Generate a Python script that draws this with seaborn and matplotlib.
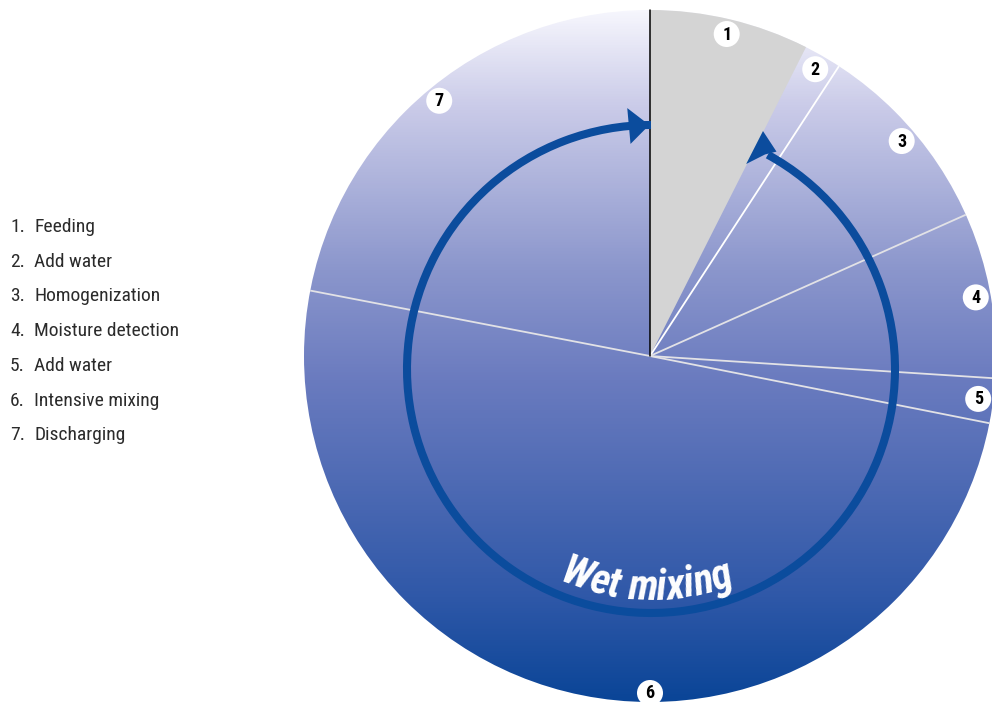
import numpy as np
import matplotlib
matplotlib.use("Agg")
import matplotlib.pyplot as plt
import seaborn as sns
from matplotlib.patches import Circle, Arc, Polygon
from matplotlib.colors import LinearSegmentedColormap
from matplotlib import font_manager as fm
from matplotlib.textpath import text_to_path
from matplotlib.font_manager import FontProperties

# ---------------- data ----------------
steps = ["Feeding", "Add water", "Homogenization", "Moisture detection",
         "Add water", "Intensive mixing", "Discharging"]
step_numbers = ["1", "2", "3", "4", "5", "6", "7"]
step_share = [26.8, 6.3, 32.8, 27.8, 7.5, 179.7, 79.1]   # degrees of the cycle
cycle_title = "Wet mixing"

# ---------------- style ----------------
sns.set_theme(style="white")
names = {f.name for f in fm.fontManager.ttflist}
narrow = None
for cand in ["Liberation Sans Narrow", "Roboto Condensed", "Open Sans Condensed"]:
    if cand in names:
        narrow = cand
        break
if narrow is None:
    narrow = "DejaVu Sans"
plt.rcParams["font.family"] = [narrow, "DejaVu Sans"]

W, H = 992, 704
fig = plt.figure(figsize=(W / 100, H / 100), dpi=100)
ax = fig.add_axes([0, 0, 1, 1])

cx, cy = 650, H - 356      # pie centre (data coords, y up)
R = 346

# ---------------- pie ----------------
colors = ["#d4d4d4"] + ["none"] * (len(step_share) - 1)
wedges, _ = ax.pie(step_share, colors=colors, startangle=90, counterclock=False,
                   center=(cx, cy), radius=R, frame=True,
                   wedgeprops=dict(linewidth=0, zorder=2))

# gradient background clipped to circle
cmap = LinearSegmentedColormap.from_list(
    "wet", [(0.0, "#f6f6fd"), (0.135, "#cbcce9"), (0.375, "#8b96cc"),
            (0.535, "#6a7bbf"), (0.85, "#2f58a8"), (1.0, "#0a4597")])
grad = np.linspace(0, 1, 512).reshape(-1, 1)
img = ax.imshow(grad, cmap=cmap, aspect="auto", origin="upper",
                extent=(cx - R, cx + R, cy - R, cy + R), zorder=1)
clip = Circle((cx, cy), R, transform=ax.transData)
img.set_clip_path(clip)

# boundary lines
bounds = np.cumsum(step_share)
for i, b in enumerate(bounds[1:-1], start=1):
    th = np.deg2rad(90 - b)
    col = "#ffffff" if i == 1 else "#e2e2e6"
    ax.plot([cx, cx + R * np.cos(th)], [cy, cy + R * np.sin(th)],
            color=col, lw=1.3, zorder=3, solid_capstyle="butt")
ax.plot([cx, cx], [cy, cy + R], color="black", lw=1.1, zorder=3)

# ---------------- cycle ring ----------------
ring_c = (651, H - 369)
ring_r = 244
blue = "#0b4c9d"
start_cmp = 28.6
ax.add_patch(Arc(ring_c, 2 * ring_r, 2 * ring_r, theta1=90, theta2=90 - start_cmp + 360,
                 color=blue, lw=5.8, zorder=5))

def pt(cmp_deg, r):
    t = np.deg2rad(90 - cmp_deg)
    return ring_c[0] + r * np.cos(t), ring_c[1] + r * np.sin(t)

# end arrow (pointing clockwise, at 12 o'clock)
ax.add_patch(Polygon([pt(-0.4, ring_r), pt(-5.2, ring_r - 18), pt(-5.2, ring_r + 18)],
                     closed=True, color=blue, zorder=6, lw=0))
# start arrow head
ax.add_patch(Polygon([pt(25.2, 263), pt(24.9, 226), pt(28.0, 243), pt(30.0, 251)],
                     closed=True, color=blue, zorder=6, lw=0))

# curved title along the bottom of the ring
fp = FontProperties(family=[narrow, "DejaVu Sans"], weight="bold", style="italic", size=30)
def width_pt(s):
    if not s:
        return 0.0
    w, h, d = text_to_path.get_text_width_height_descent(s, fp, ismath=False)
    return w
total = width_pt(cycle_title) * 100 / 72
Rb = 231
shift = -5
for i, ch in enumerate(cycle_title):
    if ch == " ":
        continue
    wch = width_pt(ch) * 100 / 72
    s = width_pt(cycle_title[:i + 1]) * 100 / 72 - wch / 2 - total / 2 + shift
    th = -np.pi / 2 + s / Rb
    x = ring_c[0] + Rb * np.cos(th)
    y = ring_c[1] + Rb * np.sin(th)
    ax.text(x, y, ch, fontproperties=fp, color="white", ha="center", va="baseline",
            rotation=np.rad2deg(th) + 90, rotation_mode="anchor", zorder=7)

# ---------------- number badges ----------------
starts = np.concatenate([[0], bounds[:-1]])
mids = (starts + bounds) / 2
for i, num in enumerate(step_numbers):
    if num == "6":
        ang, rr = 180.0, 337
    else:
        ang, rr = mids[i], 331
    t = np.deg2rad(90 - ang)
    x, y = cx + rr * np.cos(t), cy + rr * np.sin(t)
    ax.add_patch(Circle((x, y), 13, color="white", zorder=8, lw=0))
    ax.text(x, y - 0.5, num, ha="center", va="center", fontsize=13,
            fontweight="bold", color="black", zorder=9)

# ---------------- legend list ----------------
y0 = 227
dy = 34.7
for i, (num, name) in enumerate(zip(step_numbers, steps)):
    yy = H - (y0 + i * dy)
    ax.text(10, yy, num + ".", ha="left", va="center", fontsize=14, color="#2b2b2b")
    ax.text(34, yy, name, ha="left", va="center", fontsize=14, color="#2b2b2b")

ax.set_xlim(0, W)
ax.set_ylim(0, H)
ax.set_aspect("equal")
ax.axis("off")
fig.savefig("out.png", dpi=100, facecolor="white")
